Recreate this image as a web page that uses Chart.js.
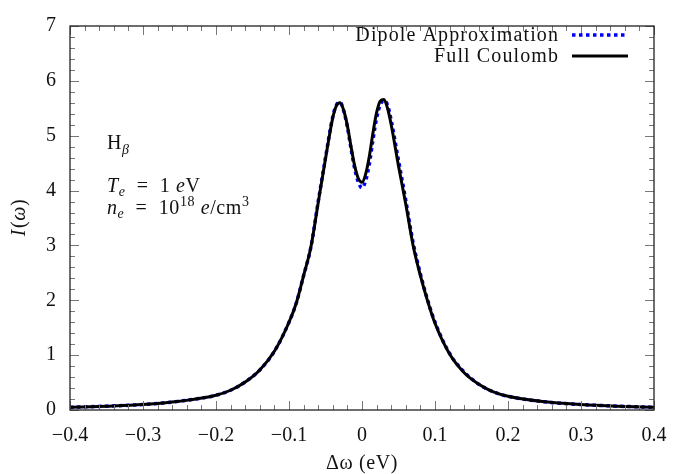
<!DOCTYPE html>
<html>
<head>
<meta charset="utf-8">
<script src="https://cdn.jsdelivr.net/npm/chart.js@4.4.1/dist/chart.umd.min.js"></script>
<style>
    html, body { margin: 0; padding: 0; background: #fff; }
    #wrap { width: 684px; height: 474px; }
</style>
</head>
<body>
<div id="wrap"><canvas id="lineChart1" width="684" height="474"></canvas></div>
<script>
// frequency offset (eV)
var deltaW = [-0.4, -0.35, -0.3, -0.25, -0.2, -0.18, -0.16, -0.14, -0.12, -0.1, -0.09, -0.08, -0.07, -0.06, -0.05, -0.04, -0.035, -0.03, -0.025, -0.02, -0.015, -0.01, -0.005, 0, 0.005, 0.01, 0.015, 0.02, 0.025, 0.03, 0.035, 0.04, 0.05, 0.06, 0.07, 0.08, 0.09, 0.1, 0.12, 0.14, 0.16, 0.18, 0.2, 0.25, 0.3, 0.35, 0.4];

var fullCoulomb = [0.05, 0.07, 0.10, 0.16, 0.27, 0.36, 0.51, 0.73, 1.07, 1.60, 1.95, 2.45, 2.97, 3.78, 4.58, 5.33, 5.55, 5.60, 5.46, 5.18, 4.80, 4.45, 4.22, 4.15, 4.30, 4.62, 5.05, 5.42, 5.63, 5.66, 5.50, 5.20, 4.45, 3.75, 3.00, 2.45, 1.98, 1.58, 1.02, 0.68, 0.47, 0.33, 0.25, 0.15, 0.10, 0.07, 0.05];

var dipole = [0.05, 0.07, 0.10, 0.16, 0.27, 0.36, 0.51, 0.73, 1.07, 1.60, 1.95, 2.45, 2.97, 3.80, 4.60, 5.35, 5.56, 5.61, 5.45, 5.16, 4.76, 4.40, 4.15, 4.05, 4.18, 4.48, 4.92, 5.32, 5.56, 5.64, 5.56, 5.28, 4.55, 3.82, 3.05, 2.48, 2.00, 1.60, 1.03, 0.69, 0.47, 0.33, 0.25, 0.15, 0.10, 0.07, 0.05];

var xTicks = [-0.4, -0.3, -0.2, -0.1, 0, 0.1, 0.2, 0.3, 0.4];
var yTicks = [0, 1, 2, 3, 4, 5, 6, 7];

var serif = "'Liberation Serif', 'DejaVu Serif', serif";

function toPoints(xs, ys) {
    var pts = [];
    for (var i = 0; i < xs.length; i++) {
        pts.push({ x: xs[i], y: ys[i] });
    }
    return pts;
}

function fmtTick(v) {
    var s = (Math.round(v * 10) / 10).toString();
    return s.replace("-", "\u2212");
}

// frame, inward ticks, titles, annotation and legend
var framePlugin = {
    id: "framePlugin",
    afterDraw: function (chart) {
        var ctx = chart.ctx;
        var a = chart.chartArea;
        var xs = chart.scales.x;
        var ys = chart.scales.y;
        ctx.save();

        // ticks
        ctx.strokeStyle = "#777";
        ctx.lineWidth = 1;
        ctx.beginPath();
        for (var i = -40; i <= 40; i += 2) {
            var px = Math.round(xs.getPixelForValue(i / 100)) + 0.5;
            var len = i % 10 === 0 ? 9 : 5;
            ctx.moveTo(px, a.bottom); ctx.lineTo(px, a.bottom - len);
            ctx.moveTo(px, a.top); ctx.lineTo(px, a.top + len);
        }
        for (var j = 0; j <= 35; j++) {
            var py = Math.round(ys.getPixelForValue(j / 5)) + 0.5;
            var l2 = j % 5 === 0 ? 9 : 5;
            ctx.moveTo(a.left, py); ctx.lineTo(a.left + l2, py);
            ctx.moveTo(a.right, py); ctx.lineTo(a.right - l2, py);
        }
        ctx.stroke();

        // frame
        ctx.strokeStyle = "#222";
        ctx.lineWidth = 1.3;
        ctx.strokeRect(a.left, a.top, a.right - a.left, a.bottom - a.top);

        ctx.fillStyle = "#111";
        ctx.textBaseline = "alphabetic";
        ctx.letterSpacing = "0.6px";

        // x title
        ctx.font = "20px " + serif;
        ctx.textAlign = "center";
        ctx.fillText("\u0394\u03c9 (eV)", (a.left + a.right) / 2, 469);

        // y title
        ctx.save();
        ctx.translate(25, (a.top + a.bottom) / 2);
        ctx.rotate(-Math.PI / 2);
        ctx.font = "italic 20px " + serif;
        var w1 = ctx.measureText("I").width;
        ctx.font = "20px " + serif;
        var w2 = ctx.measureText("(").width;
        ctx.font = "italic 20px " + serif;
        var w3 = ctx.measureText("\u03c9").width;
        ctx.font = "20px " + serif;
        var w4 = ctx.measureText(")").width;
        var x0 = -(w1 + w2 + w3 + w4) / 2;
        ctx.textAlign = "left";
        ctx.font = "italic 20px " + serif;
        ctx.fillText("I", x0, 0);
        ctx.font = "20px " + serif;
        ctx.fillText("(", x0 + w1 + 1, 0);
        ctx.font = "italic 20px " + serif;
        ctx.fillText("\u03c9", x0 + w1 + w2 + 1, 0);
        ctx.font = "20px " + serif;
        ctx.fillText(")", x0 + w1 + w2 + w3 + 1, 0);
        ctx.restore();

        // annotation
        ctx.textAlign = "left";
        var pieces = function (list, x, y) {
            for (var k = 0; k < list.length; k++) {
                var p = list[k];
                ctx.font = p[1];
                ctx.fillText(p[0], x, y + (p[2] || 0));
                x += ctx.measureText(p[0]).width;
            }
        };
        var rm = "20px " + serif;
        var it = "italic 20px " + serif;
        var sm = "14px " + serif;
        var smi = "italic 14px " + serif;
        pieces([["H", rm], ["\u03b2", smi, 5]], 107, 149);
        pieces([["T", it], ["e", smi, 4], ["  =  1 ", rm], ["e", it], ["V", rm]], 107, 192);
        pieces([["n", it], ["e", smi, 4], ["  =  10", rm], ["18", sm, -8], [" e", it], ["/cm", rm], ["3", sm, -8]], 107, 214);

        // legend
        ctx.font = "20px " + serif;
        ctx.letterSpacing = "1.1px";
        ctx.textAlign = "right";
        ctx.fillText("Dipole Approximation", 559, 41);
        ctx.fillText("Full Coulomb", 559, 62);
        ctx.letterSpacing = "0px";
        ctx.lineCap = "butt";
        ctx.strokeStyle = "#0000ff";
        ctx.lineWidth = 3.5;
        ctx.setLineDash([3.5, 3.5]);
        ctx.beginPath(); ctx.moveTo(572, 35); ctx.lineTo(628, 35); ctx.stroke();
        ctx.setLineDash([]);
        ctx.strokeStyle = "#000";
        ctx.lineWidth = 3;
        ctx.beginPath(); ctx.moveTo(572, 56); ctx.lineTo(628, 56); ctx.stroke();

        ctx.restore();
    }
};

var ctx1 = document.getElementById("lineChart1").getContext("2d");
var lineChart1 = new Chart(ctx1, {
    type: "scatter",
    data: {
        datasets: [
            {
                label: "Dipole Approximation",
                data: toPoints(deltaW, dipole),
                showLine: true,
                borderColor: "#0000ff",
                borderWidth: 3.5,
                borderDash: [3.5, 3.5],
                pointRadius: 0,
                cubicInterpolationMode: "monotone",
                order: 2,
            },
            {
                label: "Full Coulomb",
                data: toPoints(deltaW, fullCoulomb),
                showLine: true,
                borderColor: "#000000",
                borderWidth: 3,
                pointRadius: 0,
                cubicInterpolationMode: "monotone",
                order: 1,
            },
        ],
    },
    options: {
        responsive: false,
        animation: false,
        layout: { padding: { top: 19, right: 30, left: 0, bottom: 0 } },
        plugins: {
            legend: { display: false },
            tooltip: { enabled: false },
        },
        scales: {
            x: {
                type: "linear",
                min: -0.4,
                max: 0.4,
                grid: { display: false, drawTicks: false },
                border: { display: false },
                afterBuildTicks: function (scale) {
                    scale.ticks = xTicks.map(function (v) { return { value: v }; });
                },
                afterFit: function (scale) { scale.height = 64; },
                ticks: {
                    padding: 14,
                    color: "#111",
                    font: { family: serif, size: 20 },
                    maxRotation: 0,
                    callback: function (v) { return fmtTick(v); },
                },
            },
            y: {
                min: 0,
                max: 7,
                grid: { display: false, drawTicks: false },
                border: { display: false },
                afterBuildTicks: function (scale) {
                    scale.ticks = yTicks.map(function (v) { return { value: v }; });
                },
                afterFit: function (scale) { scale.width = 70; },
                ticks: {
                    padding: 14,
                    color: "#111",
                    font: { family: serif, size: 20 },
                    callback: function (v) { return v.toString(); },
                },
            },
        },
    },
    plugins: [framePlugin],
});
</script>
</body>
</html>
